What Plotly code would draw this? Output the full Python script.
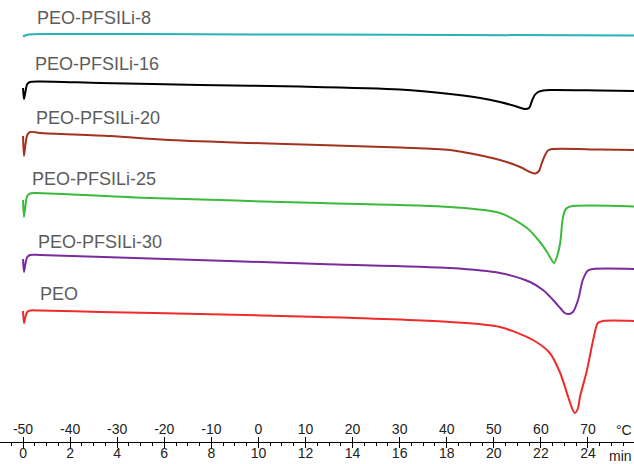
import plotly.graph_objects as go

# DSC heating traces (5 °C/min from -50 °C), heat flow in arbitrary units, endo down.
# Each curve: sample temperatures (°C) and stacked heat-flow values.
pfsili8_T = [-50, -48.9, -42, -12.4, 30.1, 79.8]
pfsili8_hf = [405.5, 407.5, 408, 407.7, 407.2, 406.5]

pfsili16_T = [-50, -49.8, -49.5, -49.1, -48.5, -46.4, -33.6, -12.4, 8.8, 30.1, 40.7,
              47.1, 51.3, 54.5, 56.6, 57.5, 58.1, 58.7, 59.4, 60.5, 61.9, 72.5, 79.8]
pfsili16_hf = [354, 343, 350, 358, 360, 360.5, 359, 357, 355.5, 352.5, 348,
               344, 340, 336, 333, 334, 341, 347, 350, 351.5, 352, 351.5, 351]

pfsili20_T = [-50, -49.8, -49.5, -49.1, -48.5, -46.4, -31.5, -18.8, -1.8, 13.1, 30.1,
              40.7, 51.3, 55.6, 57.7, 58.75, 59.6, 60.2, 60.9, 61.5, 62.4, 72.5, 79.8]
pfsili20_hf = [306, 286, 297, 307, 310, 309, 306, 302, 299, 297, 294.5,
               292, 282, 275, 270, 268.5, 271, 279, 287, 291.5, 293, 292.5, 292]

pfsili25_T = [-50, -49.8, -49.5, -49.1, -48.5, -47.5, -23.0, 13.1, 40.7, 51.3, 57.05,
              59.8, 61.3, 62.15, 62.8, 63.4, 64.1, 64.7, 65.3, 66.2, 79.8]
pfsili25_hf = [242, 225, 236, 246, 248.5, 249, 244, 239, 235, 229, 214,
               200, 190, 183, 179, 185, 199, 225, 233, 235.5, 235.5]

pfsili30_T = [-50, -49.8, -49.5, -49.1, -48.5, -46.4, -23.0, 13.1, 40.7, 51.3, 57.7,
              60.45, 62.6, 64.1, 65.1, 66.0, 66.8, 67.9, 68.9, 70.0, 71.1, 79.8]
pfsili30_hf = [183, 170, 178, 185, 187, 187, 183.5, 178, 174, 169, 160,
               152, 142, 134, 129, 128, 130, 142, 162, 171.5, 173, 173]

peo_T = [-50, -49.8, -49.5, -49.1, -48.5, -46.4, -33.6, -12.4, 13.1, 40.7, 51.3, 58.3,
         61.9, 64.1, 65.8, 66.6, 67.2, 67.9, 68.3, 69.8, 71.1, 72.1, 73.2, 79.8]
peo_hf = [131, 119, 125, 130, 131.5, 131.5, 130, 128, 125, 120, 115, 102,
          89, 69, 45, 34, 29, 34, 45, 72, 102, 119, 121, 121]

series_names = ["PEO-PFSILi-8", "PEO-PFSILi-16", "PEO-PFSILi-20",
                "PEO-PFSILi-25", "PEO-PFSILi-30", "PEO"]
series_T = [pfsili8_T, pfsili16_T, pfsili20_T, pfsili25_T, pfsili30_T, peo_T]
series_hf = [pfsili8_hf, pfsili16_hf, pfsili20_hf, pfsili25_hf, pfsili30_hf, peo_hf]
series_colors = ["#25b3b5", "#000000", "#a3321f", "#3cba3c", "#7b2a9c", "#f02b2b"]

# label anchor (temperature, heat flow) for each curve name
label_T = [-47.45, -47.9, -47.66, -48.5, -47.2, -46.8]
label_hf = [424.5, 378, 324, 263, 200, 148]

# bottom scales
temp_ticks = list(range(-50, 71, 10))
time_ticks = list(range(0, 25, 2))
rate = 5.0        # °C per min
T_start = -50.0   # temperature at t = 0
T_range = [-54.89, 79.78]
t_range = [(T_range[0] - T_start) / rate, (T_range[1] - T_start) / rate]

fig = go.Figure()
for name, T, hf, col in zip(series_names, series_T, series_hf, series_colors):
    fig.add_trace(go.Scatter(x=T, y=hf, mode="lines", name=name,
                             line=dict(color=col, width=2, shape="spline", smoothing=0.8),
                             showlegend=False, hoverinfo="skip"))

# empty traces so the time scale and its tick marks are drawn
fig.add_trace(go.Scatter(x=[], y=[], xaxis="x2", showlegend=False))
fig.add_trace(go.Scatter(x=[], y=[], xaxis="x3", showlegend=False))

label_font = dict(family="Liberation Sans, Arial", size=18, color="#5c5c5c")
for name, lx, ly in zip(series_names, label_T, label_hf):
    fig.add_annotation(x=lx, y=ly, xref="x", yref="y", text=name, showarrow=False,
                       xanchor="left", yanchor="middle", font=label_font)

# unit labels at the right end of both scales
tick_font = dict(family="Liberation Sans, Arial", size=14, color="#222")
fig.add_annotation(x=1.0, y=0.027, xref="paper", yref="paper", text="°C",
                   showarrow=False, xanchor="right", yanchor="middle", font=tick_font)
fig.add_annotation(x=1.0, y=-0.031, xref="paper", yref="paper", text="min",
                   showarrow=False, xanchor="right", yanchor="middle", font=tick_font)

fig.update_layout(
    width=634, height=464,
    margin=dict(l=0, r=0, t=0, b=22),
    paper_bgcolor="white", plot_bgcolor="white",
    # temperature scale: labels and upward ticks above the line
    xaxis=dict(range=T_range, tickmode="array", tickvals=temp_ticks,
               ticktext=[str(v) for v in temp_ticks],
               ticks="inside", ticklen=5, tickwidth=1, tickcolor="#000",
               ticklabelposition="inside", tickfont=tick_font,
               showline=True, linecolor="#000", linewidth=1,
               showgrid=False, zeroline=False, automargin=False, fixedrange=True),
    # time scale: labels below the line, minor ticks every 0.5 min
    xaxis2=dict(range=t_range, overlaying="x", anchor="y", side="bottom",
                tickmode="array", tickvals=time_ticks,
                ticktext=[str(v) for v in time_ticks],
                ticks="", ticklabelstandoff=1,
                minor=dict(ticks="outside", ticklen=3, tickwidth=1, tickcolor="#000",
                           dtick=0.5, tick0=0, showgrid=False),
                tickfont=tick_font, showline=False,
                showgrid=False, zeroline=False, automargin=False),
    # downward major ticks of the time scale
    xaxis3=dict(range=t_range, overlaying="x", anchor="y", side="bottom",
                tickmode="array", tickvals=time_ticks, showticklabels=False,
                ticks="outside", ticklen=5, tickwidth=1, tickcolor="#000",
                showline=False, showgrid=False, zeroline=False, automargin=False),
    yaxis=dict(range=[0, 442], visible=False, showgrid=False, zeroline=False,
               fixedrange=True),
)

fig.write_html("out.html")
